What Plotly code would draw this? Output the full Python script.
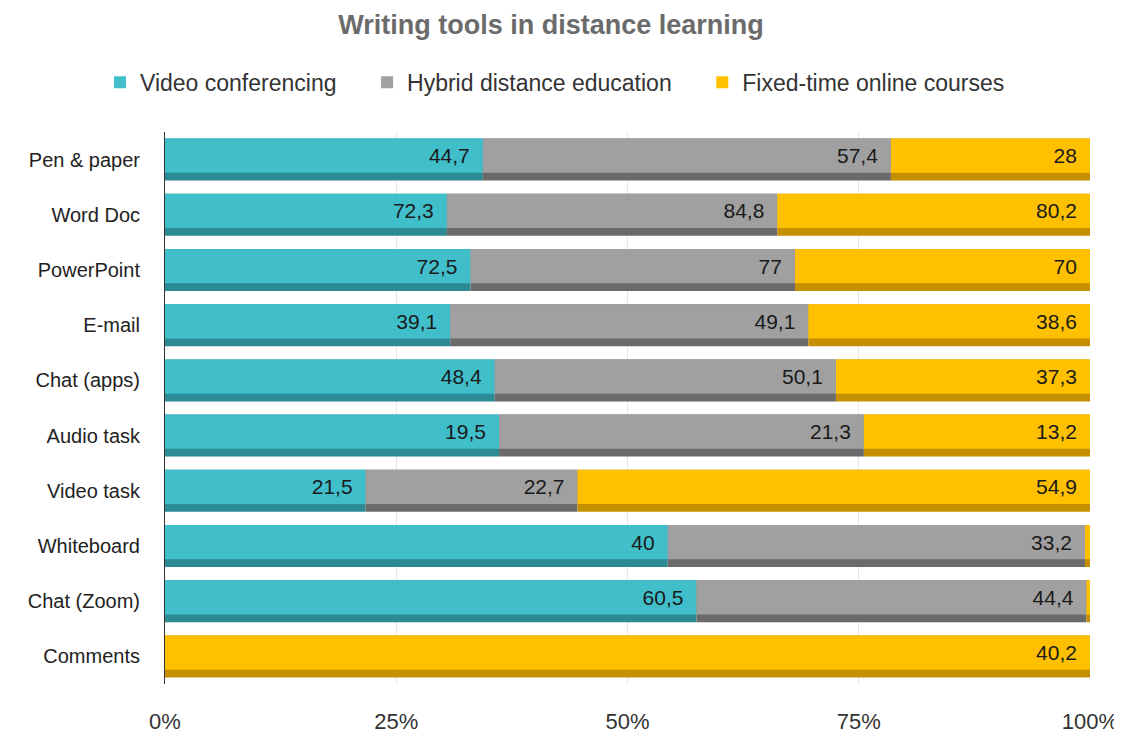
import plotly.graph_objects as go

categories = ["Pen & paper", "Word Doc", "PowerPoint", "E-mail", "Chat (apps)",
              "Audio task", "Video task", "Whiteboard", "Chat (Zoom)", "Comments"]
series_names = ["Video conferencing", "Hybrid distance education", "Fixed-time online courses"]
video_conf = [44.7, 72.3, 72.5, 39.1, 48.4, 19.5, 21.5, 40.0, 60.5, 0.0]
hybrid = [57.4, 84.8, 77.0, 49.1, 50.1, 21.3, 22.7, 33.2, 44.4, 0.0]
fixed_time = [28.0, 80.2, 70.0, 38.6, 37.3, 13.2, 54.9, 0.4, 0.4, 40.2]
x_ticks = [0, 25, 50, 75, 100]
x_tick_labels = ["0%", "25%", "50%", "75%", "100%"]

light_colors = ["#40BFCB", "#A0A0A0", "#FFC000"]
dark_colors = ["#2B8A93", "#6A6A6A", "#C49000"]
FONT = "Liberation Sans, Arial, sans-serif"
PAD = "\u00a0\u2009"

series = [video_conf, hybrid, fixed_time]
totals = [sum(s[i] for s in series) for i in range(len(categories))]
perc = [[(s[i] / totals[i] * 100 if totals[i] else 0) for i in range(len(categories))] for s in series]
bases = []
run = [0.0] * len(categories)
for p in perc:
    bases.append(list(run))
    run = [run[i] + p[i] for i in range(len(categories))]

def fmt(v):
    if v < 1:
        return ""
    s = ("%.1f" % v).rstrip("0").rstrip(".")
    return s.replace(".", ",") + PAD

fig = go.Figure()
for k in range(3):
    fig.add_trace(go.Bar(
        y=categories, x=perc[k], base=bases[k], orientation="h",
        marker=dict(color=dark_colors[k], line=dict(width=0)),
        width=0.76, offset=-0.38, showlegend=False, hoverinfo="skip",
        legendgroup=series_names[k]))
for k in range(3):
    fig.add_trace(go.Bar(
        y=categories, x=perc[k], base=bases[k], orientation="h",
        name=series_names[k] + ("\u00a0" * 4 if k < 2 else ""), legendgroup=series_names[k],
        marker=dict(color=light_colors[k], line=dict(width=0)),
        width=0.62, offset=-0.38,
        text=[fmt(v) for v in series[k]], textposition="inside",
        insidetextanchor="end", textangle=0,
        textfont=dict(family=FONT, size=21, color="#1a1a1a"),
        constraintext="none"))

fig.update_layout(
    barmode="overlay",
    width=1122, height=738,
    margin=dict(l=157, r=40, t=124, b=60),
    paper_bgcolor="white", plot_bgcolor="white",
    font=dict(family=FONT, size=20, color="#333"),
    title=dict(text="<b>Writing tools in distance learning</b>", x=0.484, xanchor="center",
               y=0.977, yanchor="middle",
               font=dict(family=FONT, size=27, color="#6b6b6b")),
    legend=dict(orientation="h", x=0.4216, xanchor="center",
                y=1.09, yanchor="middle",
                font=dict(family=FONT, size=23, color="#333"),
                itemwidth=30, traceorder="normal"),
    uniformtext=dict(minsize=10, mode="show"),
)
fig.update_xaxes(range=[0, 100], tickvals=x_ticks, ticktext=x_tick_labels,
                 showgrid=True, gridcolor="#e6e6e6", gridwidth=1, zeroline=False,
                 ticks="", ticklabelstandoff=22,
                 tickfont=dict(family=FONT, size=22, color="#333"))
fig.update_yaxes(autorange="reversed", showline=True, linecolor="#333", linewidth=1,
                 ticks="", ticklabelstandoff=20, showgrid=False,
                 tickfont=dict(family=FONT, size=20, color="#222"))

fig.write_html("out.html")
